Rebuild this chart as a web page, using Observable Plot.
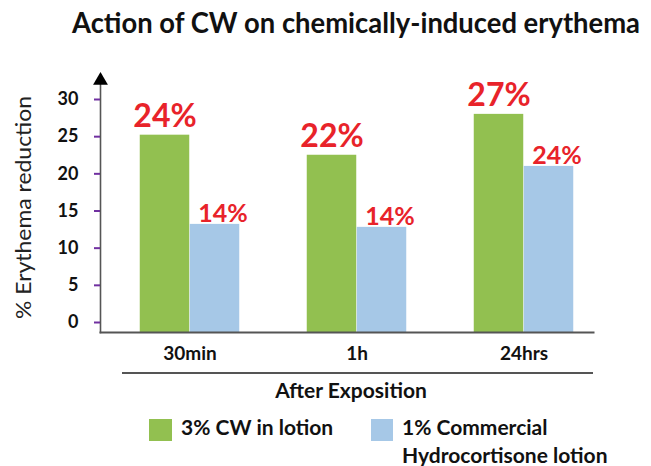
<!DOCTYPE html>
<html><head><meta charset="utf-8">
<script src="https://cdn.jsdelivr.net/npm/d3@7"></script>
<script src="https://cdn.jsdelivr.net/npm/@observablehq/plot@0.6"></script>
<style>
body{margin:0;background:#fff;font-family:Lato, sans-serif;}
#wrap{position:relative;width:651px;height:466px;overflow:hidden;background:#fff;}
.abs{position:absolute;white-space:nowrap;color:#111;}
</style></head><body><div id="wrap"></div>
<script>
const titleText = "Action of CW on chemically-induced erythema";
const categories = ["30min", "1h", "24hrs"];
const seriesNames = ["3% CW in lotion", "1% Commercial", "Hydrocortisone lotion"];
const cwValues = [25.2, 22.5, 28.0];
const hcValues = [13.2, 12.8, 21.0];
const cwLabels = ["24%", "22%", "27%"];
const hcLabels = ["14%", "14%", "24%"];
const yTicks = [0, 5, 10, 15, 20, 25, 30];
const yLabel = "% Erythema reduction";
const xLabel = "After Exposition";
const colors = ["#92c050", "#a6c8e7"];
const red = "#e8232a";

const cw = categories.map((c, i) => ({cat: c, value: cwValues[i], label: cwLabels[i]}));
const hc = categories.map((c, i) => ({cat: c, value: hcValues[i], label: hcLabels[i]}));

const wrap = document.getElementById("wrap");

function addDiv(html, css) {
  const d = document.createElement("div");
  d.className = "abs";
  d.innerHTML = html;
  Object.assign(d.style, css);
  wrap.appendChild(d);
  return d;
}

// Title
const t = addDiv(titleText, {left: "72px", top: "5px", fontSize: "28px", fontWeight: "bold", transformOrigin: "0 0"});
const tw = t.getBoundingClientRect().width;
t.style.transform = `scaleX(${568 / tw})`;

const svg = Plot.plot({
  width: 651, height: 317,
  marginTop: 25, marginBottom: 40, marginLeft: 100, marginRight: 58,
  style: {fontFamily: "Lato, sans-serif", background: "transparent", overflow: "visible"},
  x: {domain: categories, range: [105.5, 608], padding: 0},
  y: {domain: [0, 30], range: [267, 44]},
  marks: [
    Plot.barY(cw, {x: "cat", y: "value", fill: colors[0], insetLeft: 33.75, insetRight: 83.75, insetBottom: -10}),
    Plot.barY(hc, {x: "cat", y: "value", fill: colors[1], insetLeft: 83.75, insetRight: 33.75, insetBottom: -10}),
    Plot.frame({anchor: "left", stroke: "#555", strokeWidth: 1.6}),
    Plot.frame({anchor: "bottom", stroke: "#555", strokeWidth: 2}),
    Plot.dot([0], {frameAnchor: "top-left", symbol: "triangle", r: 5.5, fill: "#000", stroke: "none"}),
    Plot.axisY({ticks: yTicks, tickSize: 6, tickPadding: 16, stroke: "#7030a0", strokeWidth: 2, fill: "#111", fontSize: 18, fontWeight: "bold", label: null}),
    Plot.axisX({tickSize: 0, tickPadding: 14, fontSize: 19, fontWeight: "bold", fill: "#111", label: null}),
    Plot.text(cw, {x: "cat", y: "value", text: "label", dx: -25, dy: -8, lineAnchor: "bottom", fill: red, fontSize: 32, fontWeight: "bold"}),
    Plot.text(hc, {x: "cat", y: "value", text: "label", dx: 33, dy: -2, lineAnchor: "bottom", fill: red, fontSize: 25, fontWeight: "bold"})
  ]
});
svg.style.position = "absolute";
svg.style.left = "0px";
svg.style.top = "55px";
wrap.appendChild(svg);

// y-axis title (rotated), centred at (22, 207)
const yl = addDiv(yLabel, {left: "0px", top: "0px", fontSize: "22px", color: "#222"});
const ylw = yl.getBoundingClientRect().width;
const ylh = yl.getBoundingClientRect().height;
yl.style.left = (22 - ylw / 2) + "px";
yl.style.top = (207 - ylh / 2) + "px";
yl.style.transform = `rotate(-90deg) scaleX(${223 / ylw})`;

// x-axis group line and title
addDiv("", {left: "122px", top: "372px", width: "471px", height: "2px", background: "#555"});
addDiv(xLabel, {left: "351px", top: "377px", fontSize: "21px", fontWeight: "bold", transform: "translateX(-50%)"});

// legend
addDiv("", {left: "149px", top: "419px", width: "23px", height: "22px", background: colors[0]});
addDiv("", {left: "371px", top: "419px", width: "22px", height: "22px", background: colors[1]});
addDiv(seriesNames[0], {left: "181px", top: "413px", fontSize: "21px", fontWeight: "bold", lineHeight: "28px"});
addDiv(seriesNames[1] + "<br>" + seriesNames[2], {left: "402px", top: "413px", fontSize: "21px", fontWeight: "bold", lineHeight: "28px"});
</script>
</body></html>
